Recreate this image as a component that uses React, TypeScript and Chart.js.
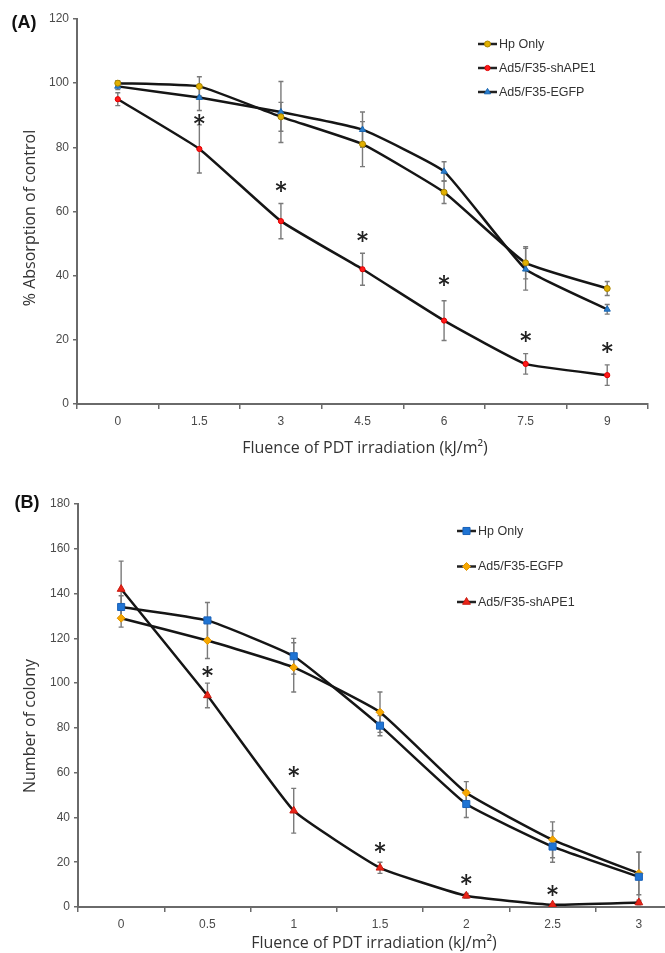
import React, { useEffect, useRef } from "react";
import { Chart, registerables } from "chart.js";
import { drawPoint } from "chart.js/helpers";

Chart.register(...registerables);

// ---------- Data: panel A ----------
const labelsA = ["0", "1.5", "3", "4.5", "6", "7.5", "9"];
const hpA = [100, 99, 89.5, 81, 66, 44, 36];
const hpAErr = [0.8, 3, 4.5, 7, 3.5, 5, 2.2];
const shA = [95, 79.5, 57, 42, 26, 12.5, 9];
const shAErr = [2, 7.5, 5.5, 5, 6.2, 3.2, 3.2];
const egA = [99, 95.5, 91, 85.5, 72.5, 42, 29.5];
const egAErr = [1, 4, 9.5, 5.5, 3, 6.5, 1.5];
const starsA = [null, 88.5, 67.5, 52, 38.5, 21, 17.5];

// ---------- Data: panel B ----------
const labelsB = ["0", "0.5", "1", "1.5", "2", "2.5", "3"];
const hpB = [134, 128, 112, 81, 46, 27, 13.5];
const hpBErr = [5, 8, 8, 4.5, 6, 7, 11];
const egB = [129, 119, 107, 87, 51, 30, 15];
const egBErr = [4, 8, 11, 9, 5, 8, 9.5];
const shB = [142, 94.5, 43, 17.5, 5, 1, 2];
const shBErr = [12.5, 5.5, 10, 2.5, 1, 0.5, 1];
const starsB = [null, 105, 60.5, 26.5, 12, 7, null];

const xTitle = "Fluence of PDT irradiation (kJ/m²)";

const TICK_FONT = "'Liberation Sans', Arial, sans-serif";
const TITLE_FONT = "'Open Sans', 'DejaVu Sans', sans-serif";
const LEGEND_FONT = "'Liberation Sans Narrow', 'Liberation Sans', Arial, sans-serif";

const errorBars = {
  id: "errorBars",
  beforeDatasetsDraw(chart: any) {
    const ctx = chart.ctx;
    const ys = chart.scales.y;
    ctx.save();
    ctx.strokeStyle = "#7a7a7a";
    ctx.lineWidth = 1.4;
    chart.data.datasets.forEach((ds: any, i: number) => {
      if (!ds.errors) return;
      const meta = chart.getDatasetMeta(i);
      meta.data.forEach((pt: any, j: number) => {
        const v = ds.data[j];
        const e = ds.errors[j];
        if (v == null || !e) return;
        const t = ys.getPixelForValue(v + e);
        const b = ys.getPixelForValue(v - e);
        const x = pt.x;
        ctx.beginPath();
        ctx.moveTo(x, t);
        ctx.lineTo(x, b);
        ctx.moveTo(x - 2.5, t);
        ctx.lineTo(x + 2.5, t);
        ctx.moveTo(x - 2.5, b);
        ctx.lineTo(x + 2.5, b);
        ctx.stroke();
      });
    });
    ctx.restore();
  },
};

const stars = {
  id: "stars",
  afterDatasetsDraw(chart: any, _args: any, opts: any) {
    if (!opts || !opts.values) return;
    const ctx = chart.ctx;
    const xs = chart.scales.x;
    const ys = chart.scales.y;
    const size = opts.size || 24;
    ctx.save();
    ctx.fillStyle = "#222";
    ctx.font = `${size}px ${opts.font || "Inter, sans-serif"}`;
    ctx.textAlign = "center";
    ctx.textBaseline = "alphabetic";
    opts.values.forEach((v: number | null, j: number) => {
      if (v == null) return;
      const x = xs.getPixelForValue(j);
      const y = ys.getPixelForValue(v);
      ctx.fillText("*", x, y + size * 0.52);
    });
    ctx.restore();
  },
};

const customLegend = {
  id: "customLegend",
  afterDraw(chart: any, _args: any, opts: any) {
    if (!opts || opts.x == null) return;
    const ctx = chart.ctx;
    ctx.save();
    chart.data.datasets.forEach((ds: any, i: number) => {
      const y = opts.y + i * opts.dy;
      const x0 = opts.x;
      const x1 = opts.x + opts.seg;
      ctx.strokeStyle = "#222";
      ctx.lineWidth = 2.5;
      ctx.beginPath();
      ctx.moveTo(x0, y);
      ctx.lineTo(x1, y);
      ctx.stroke();
      ctx.fillStyle = ds.pointBackgroundColor;
      ctx.strokeStyle = ds.pointBorderColor;
      ctx.lineWidth = 1;
      drawPoint(
        ctx,
        { pointStyle: ds.pointStyle, radius: ds.pointRadius, rotation: 0, borderWidth: 1 },
        (x0 + x1) / 2,
        y
      );
      ctx.fillStyle = "#333";
      ctx.font = `${opts.size}px ${LEGEND_FONT}`;
      ctx.textAlign = "left";
      ctx.textBaseline = "middle";
      ctx.fillText(ds.label, x1 + 2, y + 0.5);
    });
    ctx.restore();
  },
};

const freeText = {
  id: "freeText",
  afterDraw(chart: any, _args: any, opts: any) {
    if (!opts || !opts.items) return;
    const ctx = chart.ctx;
    opts.items.forEach((it: any) => {
      ctx.save();
      ctx.fillStyle = it.color || "#333";
      ctx.font = it.font;
      ctx.textAlign = "center";
      ctx.textBaseline = "middle";
      ctx.translate(it.x, it.y);
      if (it.rotate) ctx.rotate(it.rotate);
      ctx.fillText(it.text, 0, 0);
      ctx.restore();
    });
  },
};

function makeConfig(p: any) {
  return {
    type: "line",
    data: { labels: p.labels, datasets: p.datasets },
    plugins: [errorBars, stars, customLegend, freeText],
    options: {
      animation: false,
      responsive: false,
      maintainAspectRatio: false,
      events: [],
      layout: { padding: p.padding },
      elements: { line: { tension: 0.12 } },
      plugins: {
        legend: { display: false },
        tooltip: { enabled: false },
        stars: { values: p.stars, size: 27, font: "Inter, sans-serif" },
        customLegend: p.legend,
        freeText: { items: p.texts },
      },
      scales: {
        x: {
          type: "category",
          offset: true,
          grid: {
            offset: true,
            drawOnChartArea: false,
            drawTicks: true,
            tickLength: 5,
            color: "#6a6a6a",
            lineWidth: 1.5,
          },
          border: { color: "#6a6a6a", width: 2 },
          ticks: {
            color: "#4a4a4a",
            font: { family: TICK_FONT, size: 12 },
            padding: 5,
            maxRotation: 0,
            autoSkip: false,
          },
          afterFit: (s: any) => {
            s.height = p.xHeight;
          },
        },
        y: {
          min: 0,
          max: p.max,
          grid: {
            drawOnChartArea: false,
            drawTicks: true,
            tickLength: 4,
            color: "#6a6a6a",
            lineWidth: 1.5,
          },
          border: { color: "#6a6a6a", width: 2 },
          ticks: {
            stepSize: 20,
            color: "#4a4a4a",
            font: { family: TICK_FONT, size: 12 },
            padding: 4,
          },
          afterFit: (s: any) => {
            s.width = 77;
          },
        },
      },
    },
  };
}

const LINE = "#151515";

function ds(label: string, data: number[], errors: number[], style: string, radius: number, color: string, border: string) {
  return {
    label,
    data,
    errors,
    borderColor: LINE,
    borderWidth: 2.5,
    pointStyle: style,
    pointRadius: radius,
    pointBackgroundColor: color,
    pointBorderColor: border,
    pointBorderWidth: 1,
    fill: false,
  };
}

function ChartCanvas({ config, width, height, top }: any) {
  const ref = useRef<HTMLCanvasElement | null>(null);
  useEffect(() => {
    if (!ref.current) return;
    const c = new Chart(ref.current, config);
    return () => c.destroy();
  }, []);
  return (
    <canvas
      ref={ref}
      width={width}
      height={height}
      style={{ position: "absolute", left: 0, top, width, height }}
    />
  );
}

export default function App() {
  const configA = makeConfig({
    labels: labelsA,
    max: 120,
    padding: { left: 0, top: 19, right: 17, bottom: 0 },
    xHeight: 56,
    stars: starsA,
    datasets: [
      ds("Hp Only", hpA, hpAErr, "circle", 3, "#e2b000", "#a88400"),
      ds("Ad5/F35-shAPE1", shA, shAErr, "circle", 2.6, "#ff1a1a", "#e00000"),
      ds("Ad5/F35-EGFP", egA, egAErr, "triangle", 3.6, "#2a7fd0", "#1a66b0"),
    ],
    legend: { x: 478, y: 44, dy: 24, seg: 19, size: 12.5 },
    texts: [
      { text: "(A)", x: 24, y: 23, font: `bold 18px ${TICK_FONT}`, color: "#111" },
      { text: "% Absorption of control", x: 30, y: 218, rotate: -Math.PI / 2, font: `16px ${TITLE_FONT}` },
      { text: xTitle, x: 365, y: 448, font: `16px ${TITLE_FONT}` },
    ],
  });

  const configB = makeConfig({
    labels: labelsB,
    max: 180,
    padding: { left: 1, top: 44, right: 18, bottom: 0 },
    xHeight: 46,
    stars: starsB,
    datasets: [
      ds("Hp Only", hpB, hpBErr, "rect", 5, "#1f74d4", "#1a62b8"),
      ds("Ad5/F35-EGFP", egB, egBErr, "rectRot", 4, "#f7a800", "#e09400"),
      ds("Ad5/F35-shAPE1", shB, shBErr, "triangle", 4.5, "#ea2418", "#c81a10"),
    ],
    legend: { x: 457, y: 71, dy: 35.5, seg: 19, size: 12.5 },
    texts: [
      { text: "(B)", x: 27, y: 43, font: `bold 18px ${TICK_FONT}`, color: "#111" },
      { text: "Number of colony", x: 30, y: 266, rotate: -Math.PI / 2, font: `16px ${TITLE_FONT}` },
      { text: xTitle, x: 374, y: 483, font: `16px ${TITLE_FONT}` },
    ],
  });

  return (
    <div
      style={{
        position: "absolute",
        left: 0,
        top: 0,
        width: 665,
        height: 953,
        overflow: "hidden",
        background: "#fff",
      }}
    >
      <ChartCanvas config={configA} width={665} height={460} top={0} />
      <ChartCanvas config={configB} width={700} height={493} top={460} />
    </div>
  );
}
